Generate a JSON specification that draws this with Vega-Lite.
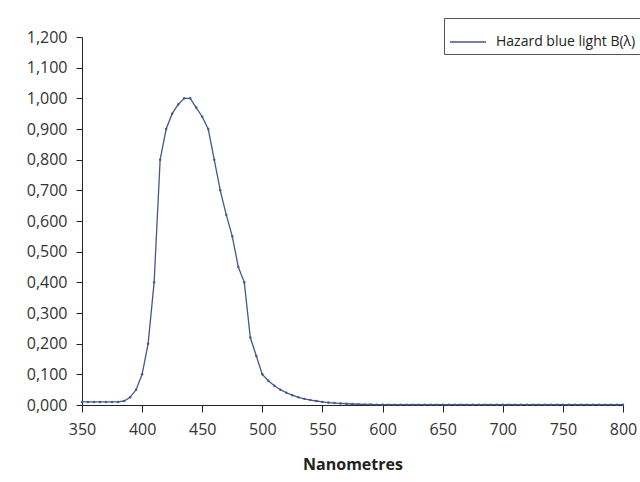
{
  "$schema": "https://vega.github.io/schema/vega-lite/v6.json",
  "width": 541,
  "height": 368,
  "autosize": "none",
  "padding": {"left": 82, "top": 37, "right": 17, "bottom": 77},
  "background": "white",
  "config": {
    "view": {"stroke": null},
    "font": "Open Sans"
  },
  "data": {
    "values": [
      {"nm": 350, "b": 0.01, "s": "Hazard blue light B(λ)"},
      {"nm": 355, "b": 0.01, "s": "Hazard blue light B(λ)"},
      {"nm": 360, "b": 0.01, "s": "Hazard blue light B(λ)"},
      {"nm": 365, "b": 0.01, "s": "Hazard blue light B(λ)"},
      {"nm": 370, "b": 0.01, "s": "Hazard blue light B(λ)"},
      {"nm": 375, "b": 0.01, "s": "Hazard blue light B(λ)"},
      {"nm": 380, "b": 0.01, "s": "Hazard blue light B(λ)"},
      {"nm": 385, "b": 0.013, "s": "Hazard blue light B(λ)"},
      {"nm": 390, "b": 0.025, "s": "Hazard blue light B(λ)"},
      {"nm": 395, "b": 0.05, "s": "Hazard blue light B(λ)"},
      {"nm": 400, "b": 0.1, "s": "Hazard blue light B(λ)"},
      {"nm": 405, "b": 0.2, "s": "Hazard blue light B(λ)"},
      {"nm": 410, "b": 0.4, "s": "Hazard blue light B(λ)"},
      {"nm": 415, "b": 0.8, "s": "Hazard blue light B(λ)"},
      {"nm": 420, "b": 0.9, "s": "Hazard blue light B(λ)"},
      {"nm": 425, "b": 0.95, "s": "Hazard blue light B(λ)"},
      {"nm": 430, "b": 0.98, "s": "Hazard blue light B(λ)"},
      {"nm": 435, "b": 1.0, "s": "Hazard blue light B(λ)"},
      {"nm": 440, "b": 1.0, "s": "Hazard blue light B(λ)"},
      {"nm": 445, "b": 0.97, "s": "Hazard blue light B(λ)"},
      {"nm": 450, "b": 0.94, "s": "Hazard blue light B(λ)"},
      {"nm": 455, "b": 0.9, "s": "Hazard blue light B(λ)"},
      {"nm": 460, "b": 0.8, "s": "Hazard blue light B(λ)"},
      {"nm": 465, "b": 0.7, "s": "Hazard blue light B(λ)"},
      {"nm": 470, "b": 0.62, "s": "Hazard blue light B(λ)"},
      {"nm": 475, "b": 0.55, "s": "Hazard blue light B(λ)"},
      {"nm": 480, "b": 0.45, "s": "Hazard blue light B(λ)"},
      {"nm": 485, "b": 0.4, "s": "Hazard blue light B(λ)"},
      {"nm": 490, "b": 0.22, "s": "Hazard blue light B(λ)"},
      {"nm": 495, "b": 0.16, "s": "Hazard blue light B(λ)"},
      {"nm": 500, "b": 0.1, "s": "Hazard blue light B(λ)"},
      {"nm": 505, "b": 0.079, "s": "Hazard blue light B(λ)"},
      {"nm": 510, "b": 0.063, "s": "Hazard blue light B(λ)"},
      {"nm": 515, "b": 0.05, "s": "Hazard blue light B(λ)"},
      {"nm": 520, "b": 0.04, "s": "Hazard blue light B(λ)"},
      {"nm": 525, "b": 0.032, "s": "Hazard blue light B(λ)"},
      {"nm": 530, "b": 0.025, "s": "Hazard blue light B(λ)"},
      {"nm": 535, "b": 0.02, "s": "Hazard blue light B(λ)"},
      {"nm": 540, "b": 0.016, "s": "Hazard blue light B(λ)"},
      {"nm": 545, "b": 0.013, "s": "Hazard blue light B(λ)"},
      {"nm": 550, "b": 0.01, "s": "Hazard blue light B(λ)"},
      {"nm": 555, "b": 0.008, "s": "Hazard blue light B(λ)"},
      {"nm": 560, "b": 0.0063, "s": "Hazard blue light B(λ)"},
      {"nm": 565, "b": 0.005, "s": "Hazard blue light B(λ)"},
      {"nm": 570, "b": 0.004, "s": "Hazard blue light B(λ)"},
      {"nm": 575, "b": 0.0032, "s": "Hazard blue light B(λ)"},
      {"nm": 580, "b": 0.0025, "s": "Hazard blue light B(λ)"},
      {"nm": 585, "b": 0.002, "s": "Hazard blue light B(λ)"},
      {"nm": 590, "b": 0.0016, "s": "Hazard blue light B(λ)"},
      {"nm": 595, "b": 0.0013, "s": "Hazard blue light B(λ)"},
      {"nm": 600, "b": 0.001, "s": "Hazard blue light B(λ)"},
      {"nm": 605, "b": 0.001, "s": "Hazard blue light B(λ)"},
      {"nm": 610, "b": 0.001, "s": "Hazard blue light B(λ)"},
      {"nm": 615, "b": 0.001, "s": "Hazard blue light B(λ)"},
      {"nm": 620, "b": 0.001, "s": "Hazard blue light B(λ)"},
      {"nm": 625, "b": 0.001, "s": "Hazard blue light B(λ)"},
      {"nm": 630, "b": 0.001, "s": "Hazard blue light B(λ)"},
      {"nm": 635, "b": 0.001, "s": "Hazard blue light B(λ)"},
      {"nm": 640, "b": 0.001, "s": "Hazard blue light B(λ)"},
      {"nm": 645, "b": 0.001, "s": "Hazard blue light B(λ)"},
      {"nm": 650, "b": 0.001, "s": "Hazard blue light B(λ)"},
      {"nm": 655, "b": 0.001, "s": "Hazard blue light B(λ)"},
      {"nm": 660, "b": 0.001, "s": "Hazard blue light B(λ)"},
      {"nm": 665, "b": 0.001, "s": "Hazard blue light B(λ)"},
      {"nm": 670, "b": 0.001, "s": "Hazard blue light B(λ)"},
      {"nm": 675, "b": 0.001, "s": "Hazard blue light B(λ)"},
      {"nm": 680, "b": 0.001, "s": "Hazard blue light B(λ)"},
      {"nm": 685, "b": 0.001, "s": "Hazard blue light B(λ)"},
      {"nm": 690, "b": 0.001, "s": "Hazard blue light B(λ)"},
      {"nm": 695, "b": 0.001, "s": "Hazard blue light B(λ)"},
      {"nm": 700, "b": 0.001, "s": "Hazard blue light B(λ)"},
      {"nm": 705, "b": 0.001, "s": "Hazard blue light B(λ)"},
      {"nm": 710, "b": 0.001, "s": "Hazard blue light B(λ)"},
      {"nm": 715, "b": 0.001, "s": "Hazard blue light B(λ)"},
      {"nm": 720, "b": 0.001, "s": "Hazard blue light B(λ)"},
      {"nm": 725, "b": 0.001, "s": "Hazard blue light B(λ)"},
      {"nm": 730, "b": 0.001, "s": "Hazard blue light B(λ)"},
      {"nm": 735, "b": 0.001, "s": "Hazard blue light B(λ)"},
      {"nm": 740, "b": 0.001, "s": "Hazard blue light B(λ)"},
      {"nm": 745, "b": 0.001, "s": "Hazard blue light B(λ)"},
      {"nm": 750, "b": 0.001, "s": "Hazard blue light B(λ)"},
      {"nm": 755, "b": 0.001, "s": "Hazard blue light B(λ)"},
      {"nm": 760, "b": 0.001, "s": "Hazard blue light B(λ)"},
      {"nm": 765, "b": 0.001, "s": "Hazard blue light B(λ)"},
      {"nm": 770, "b": 0.001, "s": "Hazard blue light B(λ)"},
      {"nm": 775, "b": 0.001, "s": "Hazard blue light B(λ)"},
      {"nm": 780, "b": 0.001, "s": "Hazard blue light B(λ)"},
      {"nm": 785, "b": 0.001, "s": "Hazard blue light B(λ)"},
      {"nm": 790, "b": 0.001, "s": "Hazard blue light B(λ)"},
      {"nm": 795, "b": 0.001, "s": "Hazard blue light B(λ)"},
      {"nm": 800, "b": 0.001, "s": "Hazard blue light B(λ)"}
    ]
  },
  "mark": {"type": "line", "strokeWidth": 1.3, "point": {"size": 6, "filled": true}},
  "encoding": {
    "x": {
      "field": "nm",
      "type": "quantitative",
      "scale": {"domain": [350, 800], "nice": false, "zero": false},
      "axis": {
        "values": [350, 400, 450, 500, 550, 600, 650, 700, 750, 800],
        "title": "Nanometres",
        "titleFont": "Open Sans",
        "titleFontSize": 16,
        "titleFontWeight": "bold",
        "titleColor": "#222222",
        "titlePadding": 19,
        "labelFont": "Open Sans",
        "labelFontSize": 16,
        "labelColor": "#333333",
        "labelPadding": 9,
        "tickSize": 7,
        "tickColor": "#222222",
        "domainColor": "#222222",
        "grid": false,
        "labelFlush": false
      }
    },
    "y": {
      "field": "b",
      "type": "quantitative",
      "scale": {"domain": [0, 1.2], "nice": false},
      "axis": {
        "values": [0, 0.1, 0.2, 0.3, 0.4, 0.5, 0.6, 0.7, 0.8, 0.9, 1.0, 1.1, 1.2],
        "labelExpr": "replace(format(datum.value, '.3f'), '.', ',')",
        "title": null,
        "labelFont": "Open Sans",
        "labelFontSize": 16,
        "labelColor": "#333333",
        "labelPadding": 9,
        "tickSize": 6,
        "tickColor": "#222222",
        "domainColor": "#222222",
        "grid": false
      }
    },
    "color": {
      "field": "s",
      "type": "nominal",
      "scale": {"range": ["#46578a"]},
      "legend": {
        "title": null,
        "orient": "none",
        "legendX": 362,
        "legendY": -19,
        "symbolType": "stroke",
        "symbolSize": 1300,
        "symbolStrokeWidth": 1.3,
        "symbolOffset": 0,
        "labelOffset": 9,
        "labelFont": "Open Sans",
        "labelFontSize": 14,
        "labelColor": "#222222",
        "strokeColor": "#555555",
        "padding": 5,
        "fillColor": "white"
      }
    }
  }
}
